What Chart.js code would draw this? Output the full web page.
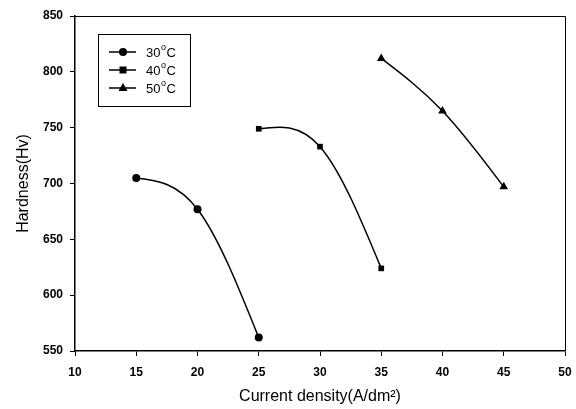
<!DOCTYPE html>
<html>
<head>
<meta charset="utf-8">
<script src="https://cdn.jsdelivr.net/npm/chart.js@4"></script>
<style>
  html, body { margin: 0; padding: 0; background: #fff; }
  #wrap { width: 576px; height: 409px; }
</style>
</head>
<body>
<div id="wrap"><canvas id="chart" width="576" height="409"></canvas></div>
<script>
// data
const density30 = [15, 20, 25];
const hardness30 = [705, 677, 562];
const density40 = [25, 30, 35];
const hardness40 = [749, 733, 624];
const density50 = [35, 40, 45];
const hardness50 = [812, 765, 697];
const seriesNames = ['30', '40', '50'];
const markerStyles = ['circle', 'rect', 'triangle'];

const xTicks = [10, 15, 20, 25, 30, 35, 40, 45, 50];
const yTicks = [550, 600, 650, 700, 750, 800, 850];

const FONT = '"Liberation Sans", Arial, sans-serif';

function toPoints(xs, ys) {
    return xs.map((x, i) => ({ x: x, y: ys[i] }));
}

// slopes of a natural cubic spline through the points (pixel space)
function naturalSlopes(px, py) {
    const n = px.length;
    const h = [], s = [];
    for (let i = 0; i < n - 1; i++) {
        h.push(px[i + 1] - px[i]);
        s.push((py[i + 1] - py[i]) / h[i]);
    }
    // second derivatives, M0 = Mn-1 = 0
    const M = new Array(n).fill(0);
    if (n > 2) {
        const a = [], b = [], c = [], d = [];
        for (let i = 1; i < n - 1; i++) {
            a.push(h[i - 1]);
            b.push(2 * (h[i - 1] + h[i]));
            c.push(h[i]);
            d.push(6 * (s[i] - s[i - 1]));
        }
        const m = b.length;
        for (let i = 1; i < m; i++) {
            const w = a[i] / b[i - 1];
            b[i] -= w * c[i - 1];
            d[i] -= w * d[i - 1];
        }
        const sol = new Array(m);
        sol[m - 1] = d[m - 1] / b[m - 1];
        for (let i = m - 2; i >= 0; i--) sol[i] = (d[i] - c[i] * sol[i + 1]) / b[i];
        for (let i = 0; i < m; i++) M[i + 1] = sol[i];
    }
    const slopes = [];
    for (let i = 0; i < n; i++) {
        if (i < n - 1) slopes.push(s[i] - h[i] * (2 * M[i] + M[i + 1]) / 6);
        else slopes.push(s[i - 1] + h[i - 1] * (M[i - 1] + 2 * M[i]) / 6);
    }
    return slopes;
}

// replace Chart.js bezier control points with natural spline ones
const splinePlugin = {
    id: 'naturalSpline',
    beforeDatasetsDraw(chart) {
        chart.data.datasets.forEach((ds, i) => {
            const meta = chart.getDatasetMeta(i);
            const line = meta.dataset;
            line.updateControlPoints(chart.chartArea, 'x');
            const pts = meta.data;
            const px = pts.map(p => p.x), py = pts.map(p => p.y);
            const k = naturalSlopes(px, py);
            for (let j = 0; j < pts.length; j++) {
                const p = pts[j];
                if (j > 0) {
                    const dx = (px[j] - px[j - 1]) / 3;
                    p.cp1x = px[j] - dx;
                    p.cp1y = py[j] - dx * k[j];
                }
                if (j < pts.length - 1) {
                    const dx = (px[j + 1] - px[j]) / 3;
                    p.cp2x = px[j] + dx;
                    p.cp2y = py[j] + dx * k[j];
                }
            }
        });
    }
};

function drawMarker(ctx, style, x, y) {
    ctx.fillStyle = '#000';
    ctx.beginPath();
    if (style === 'circle') {
        ctx.arc(x, y, 4, 0, 2 * Math.PI);
    } else if (style === 'rect') {
        ctx.rect(x - 3.5, y - 3.5, 7, 7);
    } else {
        ctx.moveTo(x, y - 5);
        ctx.lineTo(x + 4.5, y + 3);
        ctx.lineTo(x - 4.5, y + 3);
        ctx.closePath();
    }
    ctx.fill();
}

// box around the plot + legend inside the plot
const framePlugin = {
    id: 'frame',
    afterDraw(chart) {
        const ctx = chart.ctx;
        const a = chart.chartArea;
        ctx.save();
        ctx.strokeStyle = '#000';
        ctx.lineWidth = 1;
        ctx.beginPath();
        ctx.moveTo(a.left, a.top + 0.5);
        ctx.lineTo(a.right + 0.5, a.top + 0.5);
        ctx.lineTo(a.right + 0.5, a.bottom);
        ctx.stroke();

        // legend
        const bx = 98, by = 34, bw = 92, bh = 72;
        ctx.strokeRect(bx + 0.5, by + 0.5, bw, bh);
        chart.data.datasets.forEach((ds, i) => {
            const cy = by + 18 + i * 18;
            ctx.beginPath();
            ctx.lineWidth = 1.5;
            ctx.moveTo(bx + 11, cy);
            ctx.lineTo(bx + 38, cy);
            ctx.stroke();
            drawMarker(ctx, markerStyles[i], bx + 25, cy);
            ctx.fillStyle = '#000';
            ctx.font = '13px ' + FONT;
            ctx.textBaseline = 'middle';
            ctx.textAlign = 'left';
            const t = seriesNames[i];
            ctx.fillText(t, bx + 48, cy + 1);
            const w = ctx.measureText(t).width;
            ctx.font = '9px ' + FONT;
            ctx.fillText('o', bx + 48 + w + 0.5, cy - 4);
            ctx.font = '13px ' + FONT;
            ctx.fillText('C', bx + 48 + w + 6, cy + 1);
        });
        ctx.restore();
    }
};

function makeSet(xs, ys, style, radius) {
    return {
        data: toPoints(xs, ys),
        borderColor: '#000',
        backgroundColor: '#000',
        borderWidth: 1.5,
        pointStyle: style,
        pointRadius: radius,
        pointBorderWidth: 0,
        tension: 0.4,
        fill: false
    };
}

const ctx = document.getElementById('chart').getContext('2d');
new Chart(ctx, {
    type: 'line',
    data: {
        datasets: [
            makeSet(density30, hardness30, 'circle', 4),
            makeSet(density40, hardness40, 'rect', 4),
            makeSet(density50, hardness50, 'triangle', 5)
        ]
    },
    options: {
        responsive: false,
        animation: false,
        layout: { padding: { top: 16, right: 11, left: 0, bottom: 0 } },
        plugins: {
            legend: { display: false },
            tooltip: { enabled: false }
        },
        scales: {
            x: {
                type: 'linear',
                min: 10,
                max: 50,
                afterBuildTicks: (axis) => { axis.ticks = xTicks.map(v => ({ value: v })); },
                afterFit: (axis) => {
                    axis.height = 58;
                    axis.paddingLeft = 0;
                    axis.paddingRight = 0;
                },
                grid: { drawOnChartArea: false, tickLength: 5, color: '#000' },
                border: { color: '#000', width: 1.5 },
                ticks: {
                    color: '#000',
                    padding: 9,
                    font: { family: FONT, size: 12, weight: 'bold' }
                },
                title: {
                    display: true,
                    text: 'Current density(A/dm²)',
                    color: '#000',
                    padding: { top: 4, bottom: 3 },
                    font: { family: FONT, size: 16 }
                }
            },
            y: {
                min: 550,
                max: 850,
                afterBuildTicks: (axis) => { axis.ticks = yTicks.map(v => ({ value: v })); },
                afterFit: (axis) => {
                    axis.width = 75;
                    axis.paddingTop = 0;
                    axis.paddingBottom = 0;
                },
                grid: { drawOnChartArea: false, tickLength: 5, color: '#000' },
                border: { color: '#000', width: 1.5 },
                ticks: {
                    color: '#000',
                    padding: 7,
                    font: { family: FONT, size: 12, weight: 'bold' }
                },
                title: {
                    display: true,
                    text: 'Hardness(Hv)',
                    color: '#000',
                    padding: { top: 14, bottom: 0 },
                    font: { family: FONT, size: 16 }
                }
            }
        }
    },
    plugins: [splinePlugin, framePlugin]
});
</script>
</body>
</html>
